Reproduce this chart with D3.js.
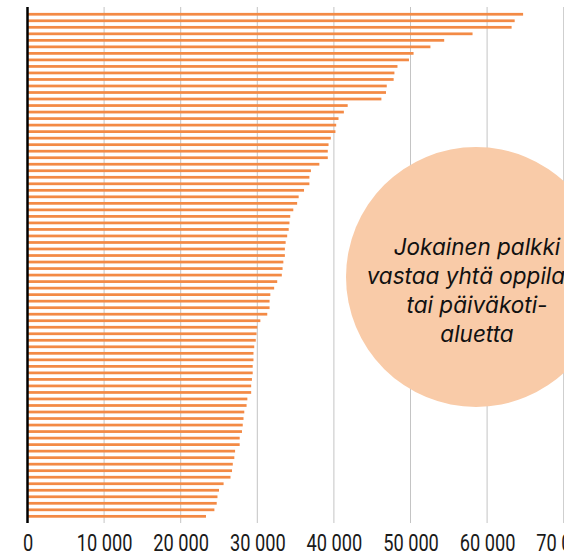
<!DOCTYPE html>
<html>
<head>
<meta charset="utf-8">
<script src="https://cdn.jsdelivr.net/npm/d3@7"></script>
<style>
    body { margin: 0; background: #fff; }
    svg { display: block; }
</style>
</head>
<body>
<svg id="chart"></svg>
<script>
// arvot luettu kuvasta, suurimmasta pienimpään
const values = [
    64700, 63600, 63200, 58100, 54400, 52600, 50400, 49800, 48300, 47900,
    47800, 46900, 46800, 46200, 41800, 41300, 40600, 40300, 40200, 39600,
    39300, 39200, 39200, 38100, 37000, 36800, 36800, 36100, 35400, 35200,
    34700, 34300, 34200, 34100, 33900, 33700, 33600, 33600, 33400, 33300,
    33200, 32600, 32200, 31700, 31600, 31600, 31300, 30400, 30000, 29900,
    29800, 29600, 29500, 29500, 29400, 29400, 29300, 29200, 29200, 28700,
    28600, 28300, 28200, 28100, 28000, 27700, 27700, 27100, 27000, 26800,
    26700, 26500, 25600, 25000, 24800, 24700, 24400, 23300
];
const areas = values.map((v, i) => 'alue ' + (i + 1));
const tickValues = [0, 10000, 20000, 30000, 40000, 50000, 60000, 70000];
const noteLines = ['Jokainen palkki', 'vastaa yhtä oppilas-', 'tai päiväkoti-', 'aluetta'];

const width = 564;
const height = 557;
const plotTop = 7;
const plotBottom = 523;

const svg = d3.select('#chart')
    .attr('width', width)
    .attr('height', height);

const x = d3.scaleLinear()
    .domain([0, 70000])
    .range([27.5, 563.7]);

const y = d3.scaleBand()
    .domain(areas)
    .range([11, 519.6])
    .paddingInner(0.58)
    .paddingOuter(0.29);

// pystyviivat
svg.append('g')
    .selectAll('line')
    .data(tickValues.slice(1))
    .enter().append('line')
    .attr('x1', (d) => x(d))
    .attr('x2', (d) => x(d))
    .attr('y1', plotTop)
    .attr('y2', plotBottom)
    .attr('stroke', '#c4c4c4')
    .attr('stroke-width', 1);

// palkit
svg.append('g')
    .selectAll('rect')
    .data(values)
    .enter().append('rect')
    .attr('x', x(0))
    .attr('y', (d, i) => y(areas[i]))
    .attr('width', (d) => x(d) - x(0))
    .attr('height', y.bandwidth())
    .attr('fill', '#f38a45');

// nollaviiva
svg.append('line')
    .attr('x1', x(0))
    .attr('x2', x(0))
    .attr('y1', plotTop)
    .attr('y2', plotBottom)
    .attr('stroke', '#000')
    .attr('stroke-width', 2.5);

// x-akseli
const xAxis = d3.axisBottom(x)
    .tickValues(tickValues)
    .tickSize(0)
    .tickFormat((d) => d3.format(',')(d).replace(/,/g, ' '));

const axisG = svg.append('g')
    .attr('transform', 'translate(0,' + plotBottom + ')')
    .call(xAxis);
axisG.select('.domain').remove();
axisG.selectAll('text')
    .attr('y', 28)
    .attr('dy', 0)
    .attr('transform', 'scale(0.76,1)')
    .attr('fill', '#1a1a1a')
    .style('font-family', 'Roboto, sans-serif')
    .style('font-size', '24px');

// selitepallo
const note = svg.append('g');
note.append('circle')
    .attr('cx', 476)
    .attr('cy', 277)
    .attr('r', 130)
    .attr('fill', '#f9cba8');
note.selectAll('text')
    .data(noteLines)
    .enter().append('text')
    .attr('x', 477)
    .attr('y', (d, i) => 255 + i * 29)
    .attr('text-anchor', 'middle')
    .attr('fill', '#111')
    .style('font-family', 'Inter, sans-serif')
    .style('font-style', 'italic')
    .style('font-size', '22.5px')
    .text((d) => d);
</script>
</body>
</html>
